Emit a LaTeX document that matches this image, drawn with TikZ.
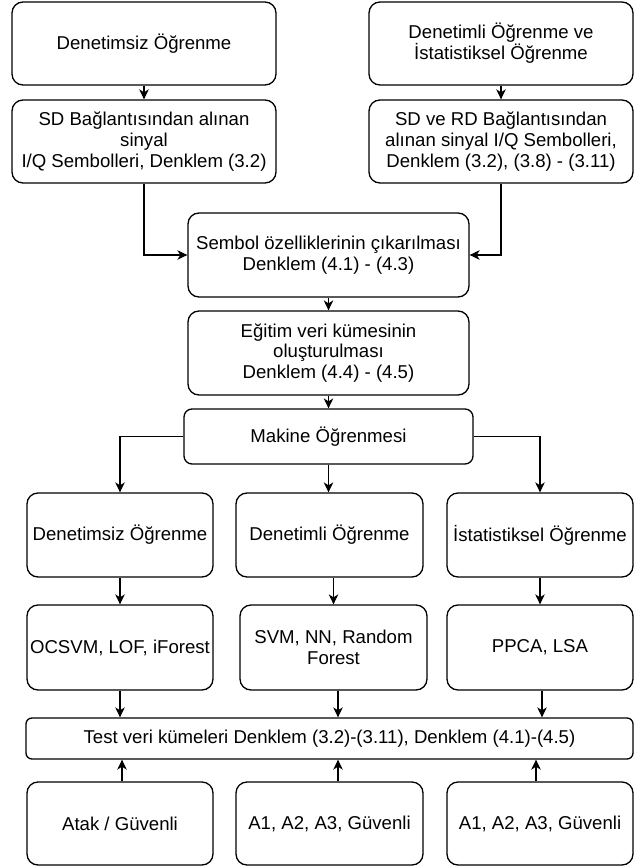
\documentclass[tikz,border=0pt]{standalone}
\usepackage{fontspec}
\setmainfont{Liberation Sans}
\usetikzlibrary{arrows.meta}
\begin{document}
\begin{tikzpicture}[x=1pt,y=-1pt,
  box/.style={draw, line width=1.3pt, rounded corners=11pt, inner sep=0pt,
    align=center, font=\fontsize{18.6}{20.8}\selectfont},
  bigbox/.style={box, minimum width=264pt, minimum height=83pt},
  midbox/.style={box, minimum width=281pt, minimum height=84pt},
  colbox/.style={box, minimum width=186pt, minimum height=84pt},
  arr/.style={line width=1.3pt, -{Stealth[length=10pt,width=9.5pt,inset=3pt]}}]
\useasboundingbox (0,0) rectangle (638,867);

% input sources
\node[bigbox] (b1) at (144,43.5) {Denetimsiz Öğrenme};
\node[bigbox] (b2) at (144,141.5) {SD Bağlantısından alınan\\sinyal\\I/Q Sembolleri, Denklem (3.2)};
\node[bigbox] (b3) at (501,43.5) {Denetimli Öğrenme ve\\İstatistiksel Öğrenme};
\node[bigbox] (b4) at (501,141.5) {SD ve RD Bağlantısından\\alınan sinyal I/Q Sembolleri,\\Denklem (3.2), (3.8) - (3.11)};

% feature extraction and training set
\node[midbox] (b5) at (328.5,255) {Sembol özelliklerinin çıkarılması\\Denklem (4.1) - (4.3)};
\node[midbox] (b6) at (328.5,353) {Eğitim veri kümesinin\\oluşturulması\\Denklem (4.4) - (4.5)};
\node[box, rounded corners=8pt, minimum width=289pt, minimum height=55pt] (mk) at (328.5,436.5) {Makine Öğrenmesi};

% learning branches
\node[colbox] (d1) at (120,535) {Denetimsiz Öğrenme};
\node[colbox, minimum width=187pt] (d2) at (329.5,535) {Denetimli Öğrenme};
\node[colbox] (d3) at (540,535) {İstatistiksel Öğrenme};

\node[colbox, minimum height=85pt] (a1) at (120,647.5) {OCSVM, LOF, iForest};
\node[colbox, minimum width=187pt, minimum height=85pt] (a2) at (333.5,647.5) {SVM, NN, Random\\Forest};
\node[colbox, minimum height=85pt] (a3) at (540,647.5) {PPCA, LSA};

% test data
\node[box, rounded corners=6pt, minimum width=607pt, minimum height=41pt] (test) at (329.5,738.5)
  {Test veri kümeleri Denklem (3.2)-(3.11), Denklem (4.1)-(4.5)};

\node[colbox, minimum height=83pt] (c1) at (120,823.5) {Atak / Güvenli};
\node[colbox, minimum width=187pt, minimum height=83pt] (c2) at (329.5,823.5) {A1, A2, A3, Güvenli};
\node[colbox, minimum height=83pt] (c3) at (540,823.5) {A1, A2, A3, Güvenli};

% connectors
\draw[arr] (b1) -- (b2);
\draw[arr] (b3) -- (b4);
\draw[arr] (b2.south) |- (b5.west);
\draw[arr] (b4.south) |- (b5.east);
\draw[arr] (b5) -- (b6);
\draw[arr] (b6) -- (mk);
\draw[arr] (mk.west) -| (d1.north);
\draw[arr] (mk.south) -- (mk.south |- d2.north);
\draw[arr] (mk.east) -| (d3.north);
\draw[arr] (d1) -- (a1);
\draw[arr] (d2.south -| a2.north) -- (a2.north);
\draw[arr] (d3) -- (a3);
\draw[arr] (a1.south) -- (a1.south |- test.north);
\draw[arr] ([xshift=4.5pt]a2.south) -- ([xshift=4.5pt]a2.south |- test.north);
\draw[arr] ([xshift=2pt]a3.south) -- ([xshift=2pt]a3.south |- test.north);
\draw[arr] ([xshift=2pt]c1.north) -- ([xshift=2pt]c1.north |- test.south);
\draw[arr] ([xshift=8.5pt]c2.north) -- ([xshift=8.5pt]c2.north |- test.south);
\draw[arr] ([xshift=-4pt]c3.north) -- ([xshift=-4pt]c3.north |- test.south);
\end{tikzpicture}
\end{document}
